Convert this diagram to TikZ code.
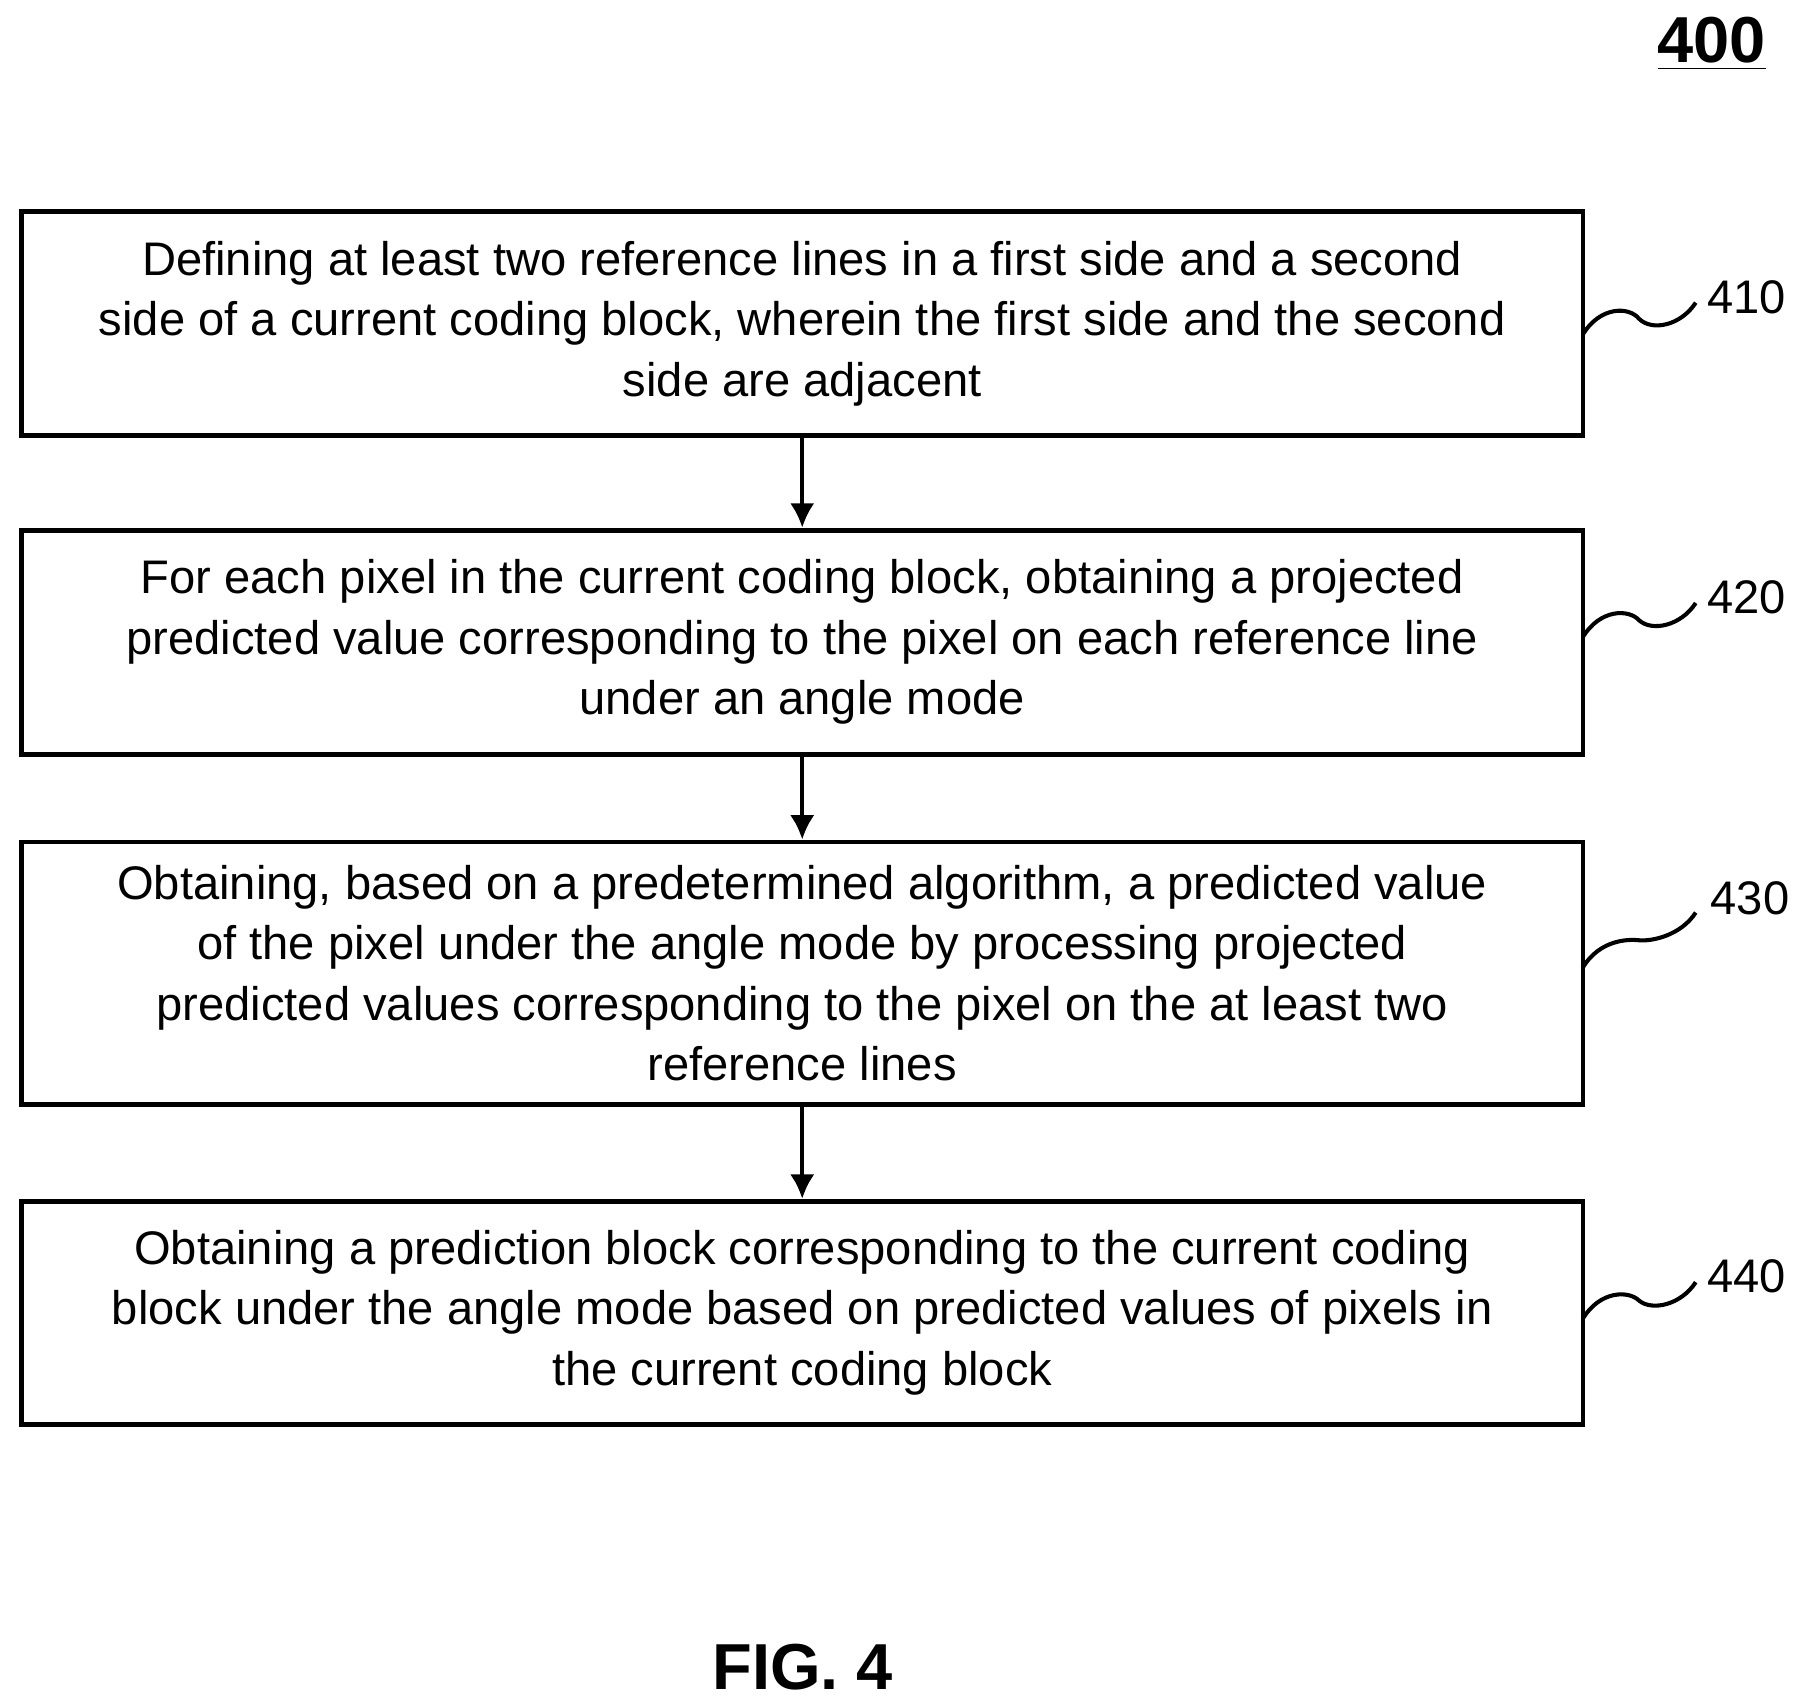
\documentclass[tikz,border=0pt]{standalone}
\usepackage{fontspec}
\setmainfont{Liberation Sans}
\usetikzlibrary{arrows.meta,calc}
\begin{document}
\begin{tikzpicture}[x=0.01cm,y=-0.01cm,
 box/.style={draw,line width=1.2pt,minimum width=13.51cm,align=center,font=\fontsize{11.6}{14.9}\selectfont,inner sep=0pt},
 lab/.style={font=\fontsize{11.6}{14}\selectfont},
 arr/.style={-{Latex[length=6pt,width=6pt]},line width=1pt},
 sq/.style={line width=1pt}]
\useasboundingbox (0,0) rectangle (1560,1473);
\node[box,minimum height=1.94cm] (b1) at (694.5,280) {Defining at least two reference lines in a first side and a second\\side of a current coding block, wherein the first side and the second\\side are adjacent};
\node[box,minimum height=1.94cm] (b2) at (694.5,556) {For each pixel in the current coding block, obtaining a projected\\predicted value corresponding to the pixel on each reference line\\under an angle mode};
\node[box,minimum height=2.27cm] (b3) at (694.5,842.5) {Obtaining, based on a predetermined algorithm, a predicted value\\of the pixel under the angle mode by processing projected\\predicted values corresponding to the pixel on the at least two\\reference lines};
\node[box,minimum height=1.93cm] (b4) at (694.5,1136.5) {Obtaining a prediction block corresponding to the current coding\\block under the angle mode based on predicted values of pixels in\\the current coding block};
\draw[arr] (b1) -- (b2);
\draw[arr] (b2) -- (b3);
\draw[arr] (b3) -- (b4);
\node[lab] (l1) at (1512,257) {410};
\node[lab] (l2) at (1512,517) {420};
\node[lab] (l3) at (1515,778) {430};
\node[lab] (l4) at (1512,1105) {440};
\foreach \y/\ey in {290/262, 552/522, 838/790, 1142/1110}{
 \coordinate (s) at (1370,\y);
 \coordinate (e) at (1468,\ey);
 \draw[sq] (s) .. controls (1385,\y-25) and (1410,\y-25) .. ($(s)!0.5!(e)$) .. controls (1430,\ey+25) and (1455,\ey+20) .. (e);
}
\node[font=\bfseries\fontsize{16}{18}\selectfont] (n400) at (1482,38) {\underline{400}};
\node[font=\bfseries\fontsize{16}{18}\selectfont] (fig) at (695,1443) {FIG. 4};
\end{tikzpicture}
\end{document}
